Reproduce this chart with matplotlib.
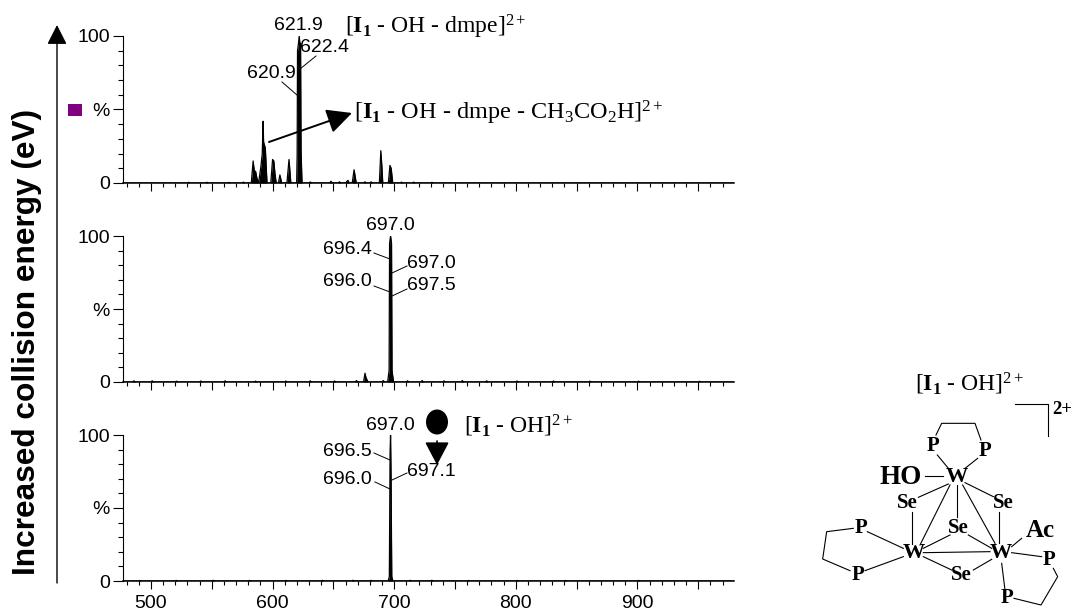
import matplotlib
matplotlib.use('Agg')
import matplotlib.pyplot as plt
from matplotlib.patches import Ellipse, Rectangle
from matplotlib.ticker import MultipleLocator, FixedLocator, FixedFormatter

plt.rcParams['font.family'] = ['Liberation Sans', 'DejaVu Sans']
plt.rcParams['mathtext.fontset'] = 'custom'
plt.rcParams['mathtext.rm'] = 'Liberation Serif'
plt.rcParams['mathtext.bf'] = 'Liberation Serif:bold'
plt.rcParams['mathtext.it'] = 'Liberation Serif:italic'

# spectra
mz_top = [478, 530, 531, 532, 545, 546, 547, 563, 564, 565, 575, 576, 577, 582.5, 584, 585, 586, 587.2, 588.5,
          589.5, 590.5, 591.5, 592.2, 592.6, 593.2, 594, 595.4, 598.5, 600, 601, 602, 603,
          604.8, 606, 607.5, 611.8, 613.5, 615, 619.8, 620.2, 620.5, 621.3, 621.9, 622.4, 623, 623.4, 624.2,
          630, 631, 632, 647, 648, 649, 654, 655, 656, 660, 661, 662, 663, 665.5, 667, 668.8,
          675, 676, 677, 680, 681, 682, 687.8, 689, 689.8, 690.6, 695.2, 696.5, 697.5, 698.8,
          705, 706, 707, 715, 716, 717, 730, 731, 732, 979]
int_top = [0, 0, 0.5, 0, 0, 0.5, 0, 0, 0.4, 0, 0, 0.6, 0, 0, 15, 8, 8, 3, 0,
           6, 12, 20, 42, 28, 26, 24, 0, 0, 16, 15, 6, 0,
           0, 5.5, 0, 0, 16, 0, 0, 20, 90, 95, 100, 95, 95, 22, 0,
           0, 0.7, 0, 0, 1.2, 0, 0, 0.8, 0, 0, 1, 1.8, 0, 0, 9, 0,
           0, 0.8, 0, 0, 0.8, 0, 0, 22, 12, 0, 0, 12, 10, 0,
           0, 0.6, 0, 0, 0.6, 0, 0, 0.5, 0, 0]

mz_mid = [478, 485, 486, 487, 500, 501, 502, 520, 521, 522, 540, 541, 542, 560, 561, 562, 585, 586, 587,
          610, 611, 612, 630, 631, 632, 650, 651, 652, 668, 669, 670, 674.8, 676, 676.8, 678.5,
          690, 691, 692, 694.6, 695.2, 695.8, 696.2, 697, 697.8, 698.2, 698.8, 699.5,
          710, 711, 712, 722, 723, 724, 740, 741, 742, 755, 756, 757, 775, 776, 777, 800, 801, 802,
          830, 831, 832, 860, 861, 862, 900, 901, 902, 950, 951, 952, 979]
int_mid = [0, 0, 0.8, 0, 0, 0.8, 0, 0, 0.6, 0, 0, 0.7, 0, 0, 0.8, 0, 0, 0.6, 0,
           0, 0.7, 0, 0, 0.8, 0, 0, 0.7, 0, 0, 1, 0, 0, 6, 3, 0,
           0, 1, 0, 0, 4, 8, 95, 100, 95, 8, 4, 0,
           0, 0.8, 0, 0, 1, 0, 0, 0.8, 0, 0, 1, 0, 0, 0.8, 0, 0, 0.7, 0,
           0, 0.7, 0, 0, 0.6, 0, 0, 0.6, 0, 0, 0.5, 0, 0]

mz_bot = [478, 490, 491, 492, 520, 521, 522, 550, 551, 552, 580, 581, 582, 610, 611, 612, 640, 641, 642,
          665, 666, 667, 680, 681, 682, 695, 696, 696.6, 697, 697.4, 698, 699,
          712, 713, 714, 730, 731, 732, 760, 761, 762, 800, 801, 802, 840, 841, 842, 900, 901, 902, 979]
int_bot = [0, 0, 0.4, 0, 0, 0.4, 0, 0, 0.5, 0, 0, 0.4, 0, 0, 0.4, 0, 0, 0.5, 0,
           0, 0.5, 0, 0, 0.5, 0, 0, 3, 88, 100, 72, 3, 0,
           0, 0.5, 0, 0, 0.5, 0, 0, 0.4, 0, 0, 0.4, 0, 0, 0.4, 0, 0, 0.4, 0, 0]

panel_mz = [mz_top, mz_mid, mz_bot]
panel_int = [int_top, int_mid, int_bot]
panel_top = [36, 236, 435]
panel_bottom = [183, 382, 581]

x_ticks = [500, 600, 700, 800, 900]
y_ticks = [0, 50, 100]
y_labels = ['0', '%', '100']

W, H = 1072, 613
fig = plt.figure(figsize=(W / 100, H / 100), dpi=100)

for i in range(3):
    ax = fig.add_axes([123 / W, 1 - panel_bottom[i] / H, 611 / W, (panel_bottom[i] - panel_top[i]) / H])
    ax.fill_between(panel_mz[i], 0, panel_int[i], color='black', lw=0)
    ax.plot(panel_mz[i], panel_int[i], color='black', lw=0.9)
    ax.set_xlim(477, 979.4)
    ax.set_ylim(0, 100)
    ax.spines['top'].set_visible(False)
    ax.spines['right'].set_visible(False)
    ax.spines['left'].set_linewidth(0.8)
    ax.spines['bottom'].set_linewidth(1.1)
    ax.yaxis.set_major_locator(FixedLocator(y_ticks))
    ax.yaxis.set_major_formatter(FixedFormatter(y_labels))
    ax.yaxis.set_minor_locator(MultipleLocator(10))
    ax.xaxis.set_minor_locator(MultipleLocator(10))
    ax.set_xticks(x_ticks + [550, 650, 750, 850, 950])
    if i == 2:
        ax.set_xticklabels(['500', '600', '700', '800', '900', '', '', '', '', ''])
    else:
        ax.set_xticklabels([])
    ax.tick_params(axis='x', which='major', length=6, width=0.8, labelsize=14, pad=4)
    ax.tick_params(axis='x', which='minor', length=3, width=0.8)
    ax.tick_params(axis='y', which='major', length=7.5, width=0.8, labelsize=14, pad=2)
    ax.tick_params(axis='y', which='minor', length=3.5, width=0.8)

# overlay in pixel coordinates for annotations and the structure
ov = fig.add_axes([0, 0, 1, 1], zorder=5)
ov.set_xlim(0, W)
ov.set_ylim(H, 0)
ov.axis('off')
ov.patch.set_alpha(0)

ov.text(27, 342, 'Increased collision energy (eV)', rotation=90, fontsize=22.8, fontweight='bold',
        ha='center', va='center')
ov.annotate('', xy=(57, 25), xytext=(57, 583),
            arrowprops=dict(arrowstyle='-|>,head_width=0.38,head_length=0.75', color='black', lw=1,
                            mutation_scale=16, shrinkA=0, shrinkB=0))
ov.add_patch(Rectangle((68, 104), 14, 12, color='#800080', lw=0))

peak_labels = [('621.9', 298, 26, 'center'), ('622.4', 300, 47, 'left'), ('620.9', 296, 73, 'right'),
               ('697.0', 390, 226, 'center'), ('696.4', 372, 250, 'right'), ('696.0', 372, 282, 'right'),
               ('697.0', 407, 264, 'left'), ('697.5', 407, 286, 'left'),
               ('697.0', 390, 426, 'center'), ('696.5', 372, 452, 'right'), ('696.0', 372, 480, 'right'),
               ('697.1', 407, 471, 'left')]
for s, x, y, ha in peak_labels:
    ov.text(x, y, s, fontsize=14, ha=ha, va='center')

leaders = [((282, 82), (297, 95)), ((316, 56), (300, 69)),
           ((374, 253), (390, 259)), ((407, 266), (392, 273)), ((374, 286), (390, 292)), ((407, 289), (392, 296)),
           ((374, 453), (390, 460)), ((375, 482), (390, 489)), ((407, 473), (392, 480))]
for a, b in leaders:
    ov.plot([a[0], b[0]], [a[1], b[1]], color='black', lw=0.7)

ov.text(345, 27, r'[$\mathbf{I_1}$ - OH - dmpe]$^{2+}$', fontsize=17, va='center', family='Liberation Serif')
ov.text(354, 113, r'[$\mathbf{I_1}$ - OH - dmpe - CH$_3$CO$_2$H]$^{2+}$', fontsize=17.5, va='center',
        family='Liberation Serif')
ov.text(464, 426, r'[$\mathbf{I_1}$ - OH]$^{2+}$', fontsize=17, va='center', family='Liberation Serif')
ov.text(915, 384, r'[$\mathbf{I_1}$ - OH]$^{2+}$', fontsize=17, va='center', family='Liberation Serif')

ov.annotate('', xy=(352, 113), xytext=(269, 142),
            arrowprops=dict(arrowstyle='-|>,head_width=0.42,head_length=0.85', color='black', lw=1.4,
                            mutation_scale=18, shrinkA=0, shrinkB=0))
ov.add_patch(Ellipse((437, 422), 22, 25, color='black', lw=0))
ov.annotate('', xy=(437, 465), xytext=(437, 441),
            arrowprops=dict(arrowstyle='-|>,head_width=0.42,head_length=0.8', color='black', lw=1.2,
                            mutation_scale=18, shrinkA=0, shrinkB=0))

# structure, coordinates taken from the 3x crop
def mx(x):
    return 810 + x / 3

def my(y):
    return 360 + y / 3

bonds = [[(378, 225), (395, 190), (495, 190), (513, 240)],
         [(382, 285), (415, 325)], [(503, 295), (465, 325)], [(345, 348), (400, 348)],
         [(415, 372), (325, 412)], [(465, 368), (550, 410)], [(420, 375), (330, 555)],
         [(442, 375), (442, 470)], [(458, 375), (555, 550)], [(307, 455), (307, 552)],
         [(568, 455), (568, 550)], [(420, 525), (340, 565)], [(475, 525), (545, 565)],
         [(340, 578), (540, 575)], [(340, 590), (425, 630)], [(490, 630), (545, 598)],
         [(605, 560), (635, 535)],
         [(130, 505), (50, 515), (38, 597), (120, 632)],
         [(172, 515), (280, 565)], [(165, 632), (280, 590)],
         [(605, 578), (695, 590)], [(575, 610), (585, 690)],
         [(730, 625), (743, 650), (693, 735), (612, 715)],
         [(615, 132), (713, 132), (713, 228)]]
for b in bonds:
    ov.plot([mx(p[0]) for p in b], [my(p[1]) for p in b], color='black', lw=0.8)

atoms = [('W', 440, 350, 16), ('W', 310, 580, 16), ('W', 572, 578, 16),
         ('Se', 293, 430, 15), ('Se', 580, 428, 15), ('Se', 445, 505, 15), ('Se', 455, 645, 15),
         ('P', 368, 258, 15), ('P', 525, 272, 15), ('P', 152, 505, 15), ('P', 145, 645, 15),
         ('P', 718, 600, 15), ('P', 590, 715, 15),
         ('HO', 272, 352, 19.5), ('Ac', 690, 512, 18), ('2+', 757, 150, 13.5)]
for s, x, y, size in atoms:
    ov.text(mx(x), my(y), s, fontsize=size, fontweight='bold', family='Liberation Serif',
            ha='center', va='center')

fig.savefig('out.png', dpi=100)
